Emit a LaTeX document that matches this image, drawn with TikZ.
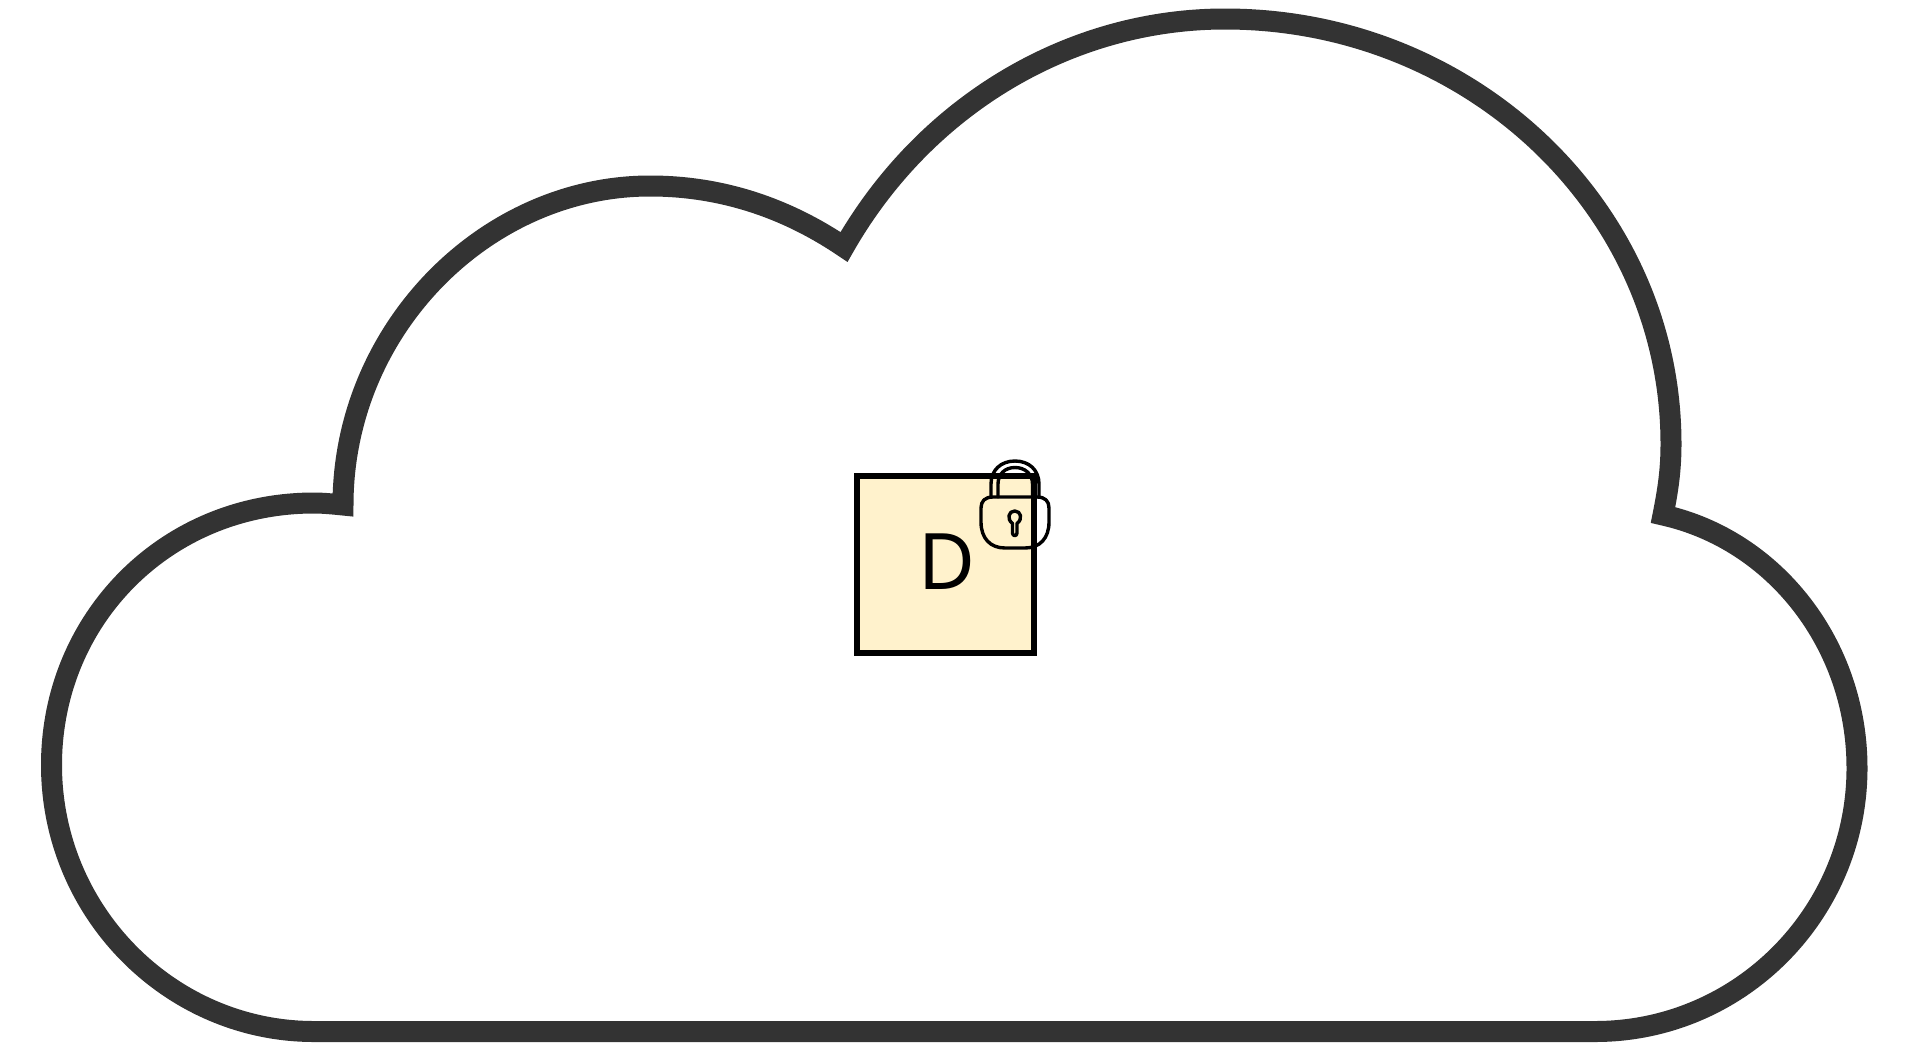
\documentclass[tikz,border=0pt]{standalone}
\usepackage{fontspec}
\setmainfont{Noto Sans}
\definecolor{cloudline}{HTML}{333333}
\definecolor{boxfill}{HTML}{FFF2CC}
\tikzset{
  cloudshape/.style={draw=cloudline,line width=21pt,miter limit=10,line join=miter},
  databox/.style={draw=black,fill=boxfill,line width=6pt,minimum width=177pt,minimum height=177pt,inner sep=0pt},
  dtext/.style={font=\fontsize{78pt}{78pt}\selectfont,inner sep=0pt,anchor=base},
  lockline/.style={draw=black,line width=3.4pt,line join=round,line cap=round}
}
\begin{document}
\begin{tikzpicture}[x=1pt,y=-1pt]
\useasboundingbox (0,0) rectangle (1906,1050);
\fill[white] (0,0) rectangle (1906,1050);
% cloud
\path[cloudshape]
 (314,1031.5) -- (1595,1031.5)
 .. controls (1740,1031.5) and (1857,913) .. (1857,768)
 .. controls (1857,645) and (1775,540) .. (1663,515)
 .. controls (1668,490) and (1671,470) .. (1671,444)
 .. controls (1671,208) and (1470,19) .. (1225,19)
 .. controls (1070,19) and (925,105) .. (844,247)
 .. controls (785,207) and (720,186) .. (650,186)
 .. controls (485,186) and (343,330) .. (343,505)
 .. controls (333,504) and (323,503) .. (314,503)
 .. controls (165,503) and (51.5,620) .. (51.5,765)
 .. controls (51.5,912) and (170,1031.5) .. (314,1031.5) -- cycle;
% box
\node[databox] (box) at (945.2,564.5) {};
\node[dtext] (dlabel) at (947,589) {D};
% lock
\draw[lockline] (993,497) .. controls (985,497) and (981,501) .. (981,508)
 -- (981,522) .. controls (981,538) and (990,548) .. (1005,548)
 -- (1025,548) .. controls (1040,548) and (1049,538) .. (1049,522)
 -- (1049,508) .. controls (1049,501) and (1045,497) .. (1037,497) -- cycle;
\draw[lockline] (991,497) -- (991,484) .. controls (991,470) and (1001,461) .. (1015,461)
 .. controls (1029,461) and (1039,470) .. (1039,484) -- (1039,497);
\draw[lockline] (998,497) -- (998,484) .. controls (998,474) and (1005,467.5) .. (1015,467.5)
 .. controls (1025,467.5) and (1032.5,474) .. (1032.5,484) -- (1032.5,497);
\draw[lockline] (1012.5,523.5) -- (1012.5,533) .. controls (1012.5,536.5) and (1017,536.5) .. (1017,533) -- (1017,523.5)
 .. controls (1023,519) and (1021,511) .. (1014.7,511)
 .. controls (1008.5,511) and (1006.5,519) .. (1012.5,523.5) -- cycle;
\end{tikzpicture}
\end{document}
